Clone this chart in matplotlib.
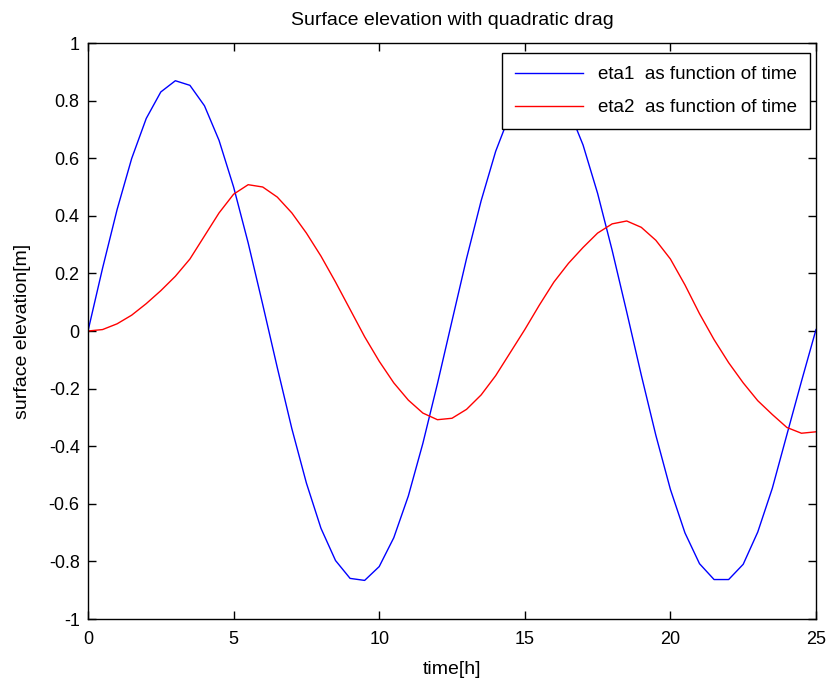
import matplotlib
matplotlib.use("Agg")
import matplotlib.pyplot as plt
import numpy as np

# time axis [h], step 0.5 h
time_h = [i * 0.5 for i in range(51)]

eta1 = [0.000, 0.218, 0.422, 0.599, 0.738, 0.830, 0.869, 0.853, 0.782, 0.662,
        0.500, 0.306, 0.092, -0.127, -0.339, -0.528, -0.685, -0.797, -0.859, -0.866,
        -0.818, -0.718, -0.573, -0.390, -0.183, 0.035, 0.252, 0.452, 0.624, 0.755,
        0.838, 0.870, 0.847, 0.771, 0.646, 0.478, 0.280, 0.066, -0.153, -0.362,
        -0.550, -0.701, -0.808, -0.863, -0.863, -0.810, -0.698, -0.546, -0.360, -0.175,
        0.005]

eta2 = [0.000, 0.005, 0.025, 0.055, 0.095, 0.140, 0.190, 0.250, 0.330, 0.410,
        0.475, 0.508, 0.500, 0.465, 0.410, 0.340, 0.260, 0.170, 0.075, -0.020,
        -0.105, -0.180, -0.240, -0.285, -0.308, -0.303, -0.272, -0.222, -0.155, -0.075,
        0.005, 0.090, 0.170, 0.235, 0.290, 0.340, 0.372, 0.382, 0.360, 0.315,
        0.250, 0.160, 0.060, -0.030, -0.110, -0.180, -0.242, -0.290, -0.335, -0.355,
        -0.350]

plt.rcParams['font.family'] = ['Liberation Sans', 'DejaVu Sans']

fig = plt.figure(figsize=(8.28, 6.85), dpi=100)
ax = fig.add_axes([88/828, 1-619/685, (816-88)/828, (619-43)/685])
ax.plot(time_h, eta1, color='#0000ff', lw=1.0, label='eta1  as function of time')
ax.plot(time_h, eta2, color='#ff0000', lw=1.0, label='eta2  as function of time')
ax.set_xlim(0, 25)
ax.set_ylim(-1, 1)
ax.set_xticks([0, 5, 10, 15, 20, 25])
ax.set_yticks([-1, -0.8, -0.6, -0.4, -0.2, 0, 0.2, 0.4, 0.6, 0.8, 1])
ax.set_yticklabels(['-1', '-0.8', '-0.6', '-0.4', '-0.2', '0', '0.2', '0.4', '0.6', '0.8', '1'])
ax.tick_params(direction='in', top=True, right=True, length=6, labelsize=13, width=1)
ax.tick_params(axis='x', pad=9)
ax.tick_params(axis='y', pad=6)
for s in ax.spines.values():
    s.set_linewidth(1.0)
ax.set_title('Surface elevation with quadratic drag', fontsize=14, pad=13)
ax.set_xlabel('time[h]', fontsize=14, labelpad=9)
ax.set_ylabel('surface elevation[m]', fontsize=14, labelpad=13)
leg = ax.legend(loc='upper right', bbox_to_anchor=(0.9918, 0.9826), borderaxespad=0,
                fontsize=13.5, fancybox=False, framealpha=1, edgecolor='black',
                handlelength=3.6, labelspacing=0.85, borderpad=0.7)
leg.get_frame().set_linewidth(1.0)
fig.savefig('out.png', dpi=100)
